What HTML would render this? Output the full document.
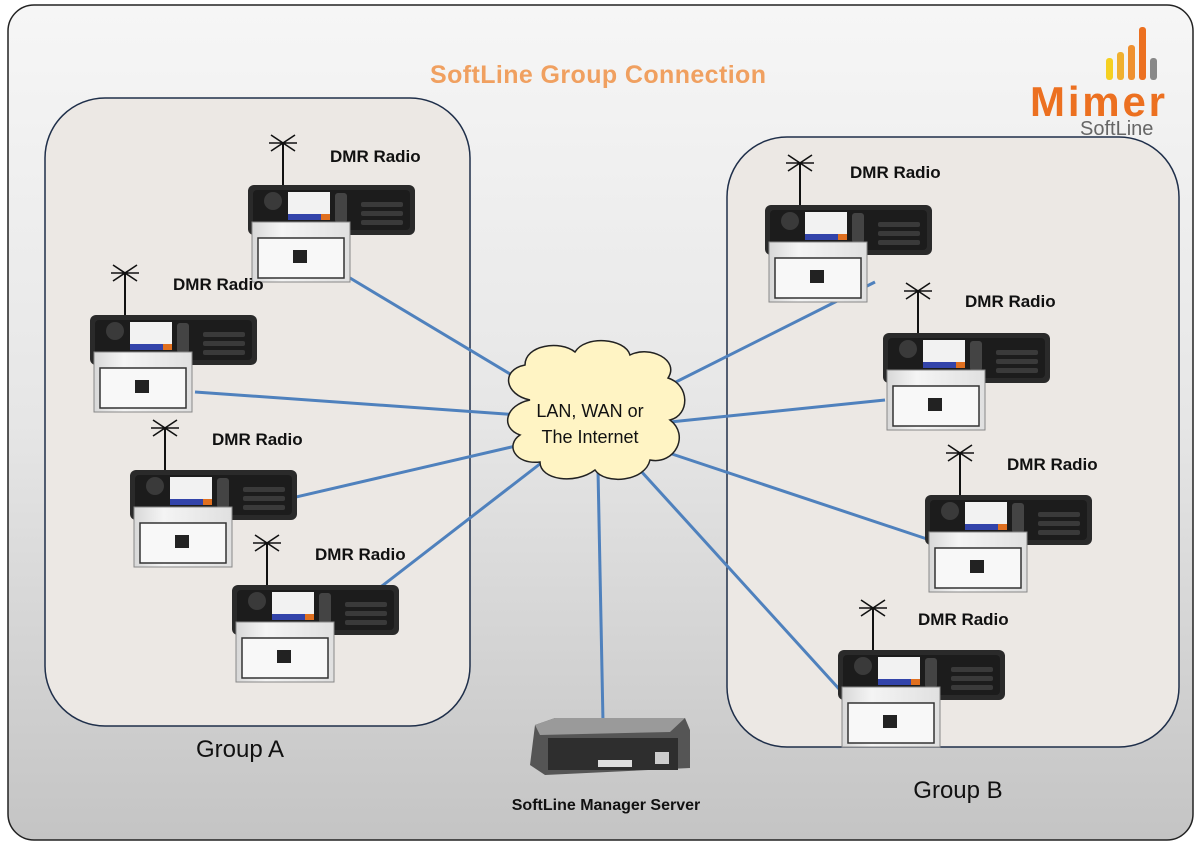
<!DOCTYPE html>
<html><head><meta charset="utf-8"><style>
html,body{margin:0;padding:0;background:#fff;}
svg{display:block;font-family:"Liberation Sans",sans-serif;}
</style></head><body>
<svg width="1200" height="850" viewBox="0 0 1200 850" xmlns="http://www.w3.org/2000/svg">
<defs>
<linearGradient id="bg" x1="0" y1="0" x2="0" y2="1">
<stop offset="0" stop-color="#f6f6f6"/><stop offset="0.5" stop-color="#e6e6e6"/><stop offset="1" stop-color="#c4c4c4"/>
</linearGradient>
<linearGradient id="box" x1="0" y1="0" x2="1" y2="0">
<stop offset="0" stop-color="#d8d8d8"/><stop offset="0.3" stop-color="#f4f4f4"/><stop offset="1" stop-color="#e0e0e0"/>
</linearGradient>
<g id="radio">
<line x1="0" y1="8" x2="0" y2="52" stroke="#111" stroke-width="2"/>
<path d="M-12 0 L12 16 M12 0 L-12 16 M-14 8 L14 8" stroke="#111" stroke-width="1.6"/>
<rect x="-35" y="50" width="167" height="50" rx="6" fill="#2a2a2a"/>
<rect x="-30" y="55" width="157" height="40" rx="4" fill="#1c1c1c"/>
<circle cx="-10" cy="66" r="9" fill="#3a3a3a"/>
<rect x="5" y="57" width="42" height="28" fill="#f2f2f2"/>
<rect x="5" y="79" width="42" height="6" fill="#3344aa"/>
<rect x="38" y="79" width="9" height="6" fill="#e07020"/>
<rect x="52" y="58" width="12" height="30" rx="3" fill="#444"/>
<rect x="78" y="67" width="42" height="5" rx="2" fill="#3a3a3a"/>
<rect x="78" y="76" width="42" height="5" rx="2" fill="#3a3a3a"/>
<rect x="78" y="85" width="42" height="5" rx="2" fill="#3a3a3a"/>
<rect x="-31" y="87" width="98" height="60" fill="url(#box)" stroke="#888" stroke-width="1"/>
<rect x="-25" y="103" width="86" height="40" fill="#f8f8f8" stroke="#333" stroke-width="1.5"/>
<rect x="10" y="115" width="14" height="13" fill="#222"/>
</g>
</defs>
<rect x="0" y="0" width="1200" height="850" fill="#fff"/>
<rect x="8" y="5" width="1185" height="835" rx="26" fill="url(#bg)" stroke="#222" stroke-width="1.5"/>
<rect x="45" y="98" width="425" height="628" rx="60" fill="#ece8e4" stroke="#1f2f4a" stroke-width="1.5"/>
<rect x="727" y="137" width="452" height="610" rx="60" fill="#ece8e4" stroke="#1f2f4a" stroke-width="1.5"/>
<text x="598" y="83" text-anchor="middle" font-size="25" font-weight="bold" fill="#f0a060" textLength="336">SoftLine Group Connection</text>
<!-- logo -->
<g>
<rect x="1106" y="58" width="7" height="22" rx="3" fill="#f5d020"/>
<rect x="1117" y="52" width="7" height="28" rx="3" fill="#f0b030"/>
<rect x="1128" y="45" width="7" height="35" rx="3" fill="#ef9030"/>
<rect x="1139" y="27" width="7" height="53" rx="3" fill="#ec7020"/>
<rect x="1150" y="58" width="7" height="22" rx="3" fill="#888"/>
<text x="1030" y="116" font-size="42" font-weight="bold" fill="#ec7020" textLength="135">Mimer</text>
<text x="1080" y="135" font-size="20" fill="#666">SoftLine</text>
</g>
<!-- lines -->
<g stroke="#4f81bd" stroke-width="3" fill="none">
<line x1="345" y1="275" x2="545" y2="395"/>
<line x1="195" y1="392" x2="520" y2="415"/>
<line x1="240" y1="510" x2="520" y2="445"/>
<line x1="325" y1="630" x2="545" y2="460"/>
<line x1="603" y1="722" x2="598" y2="470"/>
<line x1="875" y1="282" x2="650" y2="395"/>
<line x1="885" y1="400" x2="670" y2="422"/>
<line x1="930" y1="540" x2="660" y2="450"/>
<line x1="840" y1="690" x2="640" y2="470"/>
</g>
<!-- cloud -->
<path d="M530 400 C505 395 500 370 525 365 C525 345 560 340 575 352 C585 335 625 338 630 355 C650 345 680 360 668 378 C690 385 690 415 670 420 C690 435 675 465 650 460 C645 482 605 485 595 470 C575 485 540 480 540 462 C515 465 505 445 520 435 C500 428 505 405 530 400 Z" fill="#fff4c4" stroke="#222" stroke-width="1.5"/>
<text x="590" y="417" text-anchor="middle" font-size="18" fill="#111">LAN, WAN or</text>
<text x="590" y="443" text-anchor="middle" font-size="18" fill="#111">The Internet</text>
<!-- radios -->
<use href="#radio" x="283" y="135"/>
<use href="#radio" x="125" y="265"/>
<use href="#radio" x="165" y="420"/>
<use href="#radio" x="267" y="535"/>
<use href="#radio" x="800" y="155"/>
<use href="#radio" x="918" y="283"/>
<use href="#radio" x="960" y="445"/>
<use href="#radio" x="873" y="600"/>
<g font-size="17" font-weight="bold" fill="#111">
<text x="330" y="162">DMR Radio</text>
<text x="173" y="290">DMR Radio</text>
<text x="212" y="445">DMR Radio</text>
<text x="315" y="560">DMR Radio</text>
<text x="850" y="178">DMR Radio</text>
<text x="965" y="307">DMR Radio</text>
<text x="1007" y="470">DMR Radio</text>
<text x="918" y="625">DMR Radio</text>
</g>
<!-- server -->
<path d="M535 725 L555 718 L685 718 L690 730 L690 768 L545 775 L530 765 Z" fill="#555"/>
<path d="M535 725 L555 718 L685 718 L670 732 L540 735 Z" fill="#9a9a9a"/>
<rect x="548" y="738" width="130" height="32" fill="#2e2e2e"/>
<rect x="598" y="760" width="34" height="7" fill="#ddd"/>
<rect x="655" y="752" width="14" height="12" fill="#ccc"/>
<text x="606" y="810" text-anchor="middle" font-size="16" font-weight="bold" fill="#111">SoftLine Manager Server</text>
<text x="240" y="757" text-anchor="middle" font-size="24" fill="#111">Group A</text>
<text x="958" y="798" text-anchor="middle" font-size="24" fill="#111">Group B</text>
</svg>
</body></html>
